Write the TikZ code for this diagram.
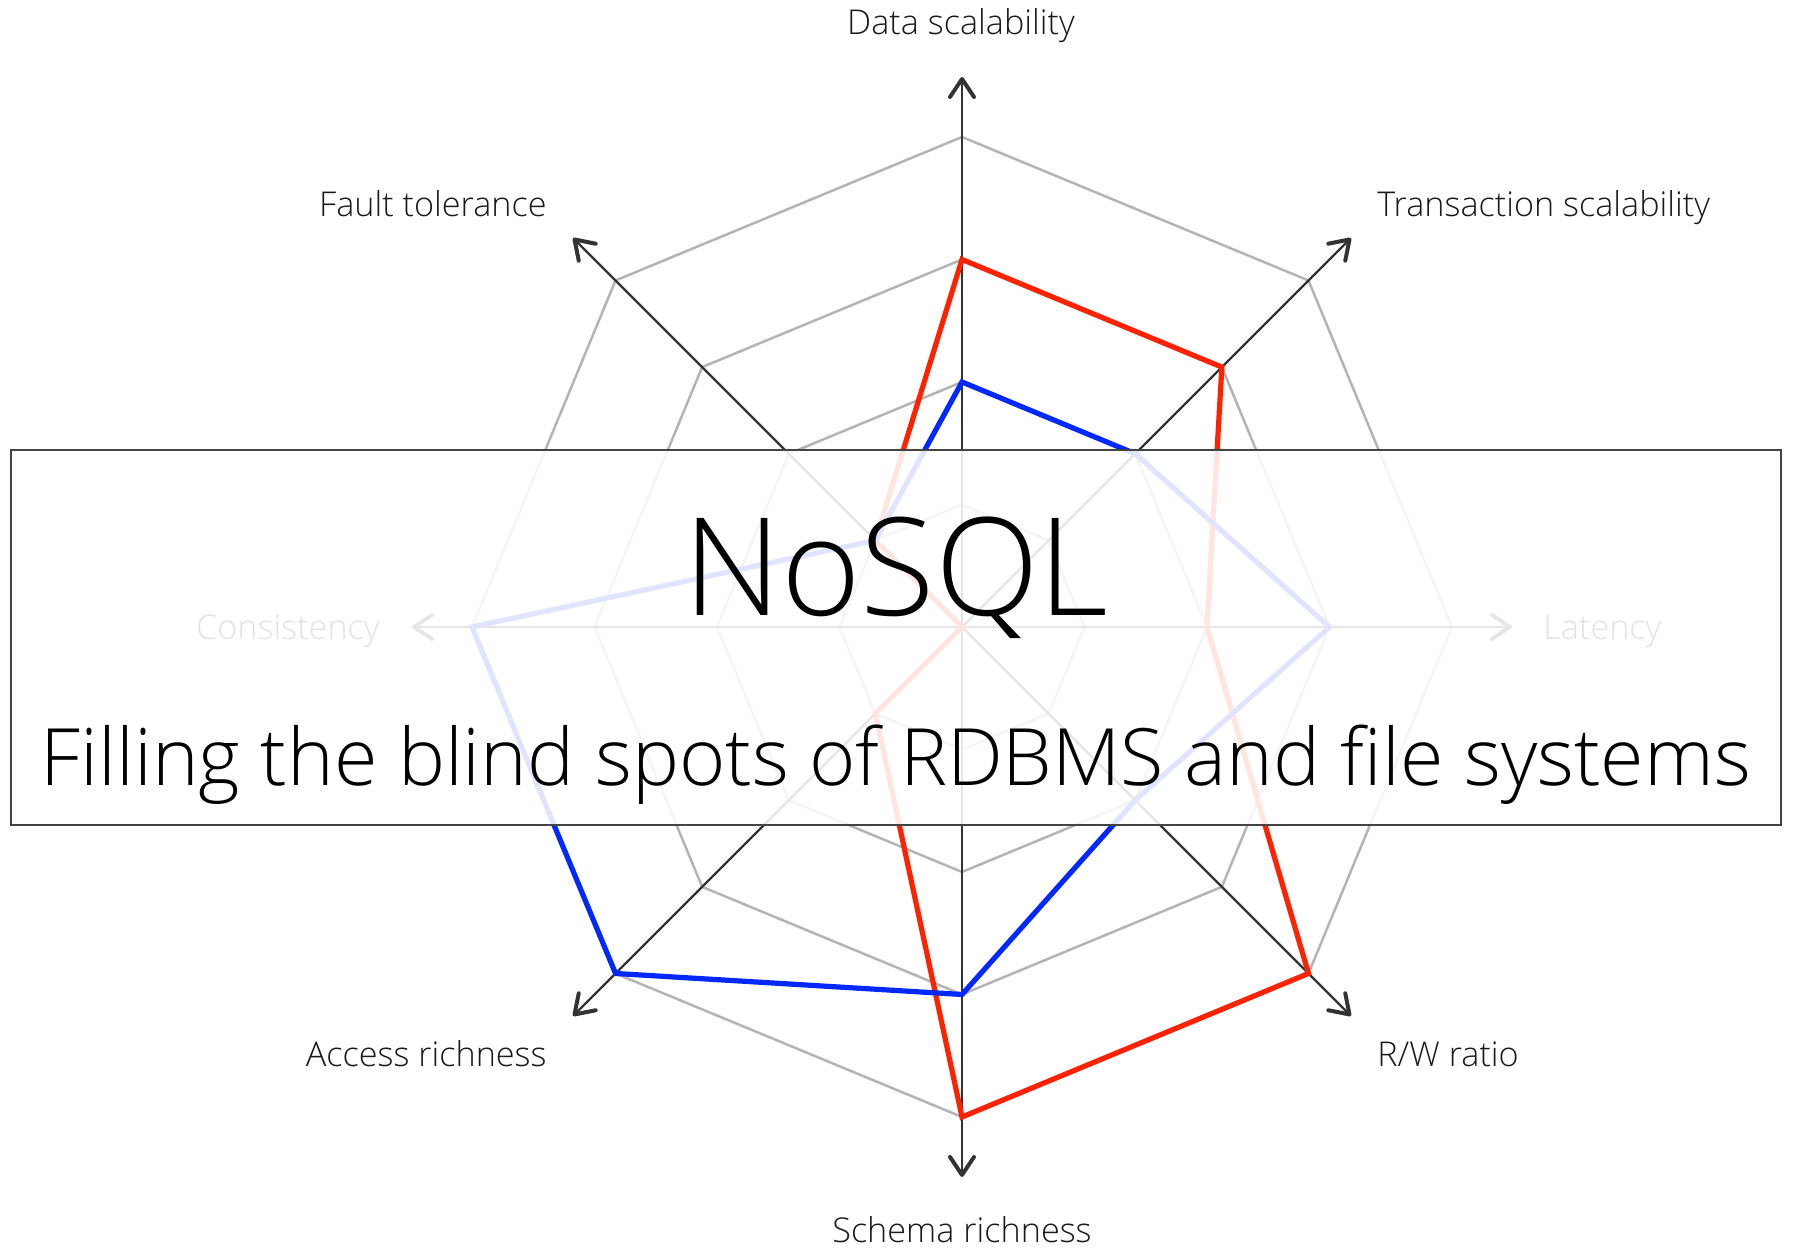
\documentclass[tikz,border=0pt]{standalone}
\usepackage{fontspec}
\setmainfont{Open Sans Light}
\usetikzlibrary{arrows.meta}
\definecolor{axisc}{HTML}{333333}
\definecolor{gridc}{HTML}{B4B4B4}
\definecolor{redc}{HTML}{FF2200}
\definecolor{bluec}{HTML}{0028FF}
\definecolor{boxc}{HTML}{444444}
\definecolor{txtc}{HTML}{1A1A1A}
\begin{document}
\begin{tikzpicture}[x=0.5pt,y=0.5pt,
  gridline/.style={draw=gridc,line width=1.25pt,line join=miter},
  axisline/.style={draw=axisc,line width=1.2pt,-{Straight Barb[length=9pt,width=12pt,line width=2pt,round]}},
  series/.style={line width=2.6pt,line join=miter},
  axlabel/.style={text=txtc,font=\fontsize{17.1}{21}\selectfont,inner sep=0pt},
  titlebox/.style={draw=boxc,fill=white,fill opacity=0.88,line width=1.4pt}]
\useasboundingbox (0,0) rectangle (1796,1252);
\coordinate (c) at (962,625);
\begin{scope}[shift={(c)}]
  % grid rings
  \foreach \k in {1,2,3,4}{
    \draw[gridline] (90:\k*122.5) -- (45:\k*122.5) -- (0:\k*122.5) -- (-45:\k*122.5) -- (-90:\k*122.5) -- (-135:\k*122.5) -- (180:\k*122.5) -- (135:\k*122.5) -- cycle;
  }
  % axis end points
  \coordinate (aN) at (90:550);
  \coordinate (aNE) at (45:550);
  \coordinate (aE) at (0:550);
  \coordinate (aSE) at (-45:550);
  \coordinate (aS) at (-90:550);
  \coordinate (aSW) at (-135:550);
  \coordinate (aW) at (180:550);
  \coordinate (aNW) at (135:550);
\end{scope}
\foreach \a in {aN,aNE,aE,aSE,aS,aSW,aW,aNW}{
  \draw[axisline] (c) -- (\a);
}
% axis labels
\node[axlabel,anchor=base] (lN) at (961,1217) {Data scalability};
\node[axlabel,anchor=base east] (lNW) at (547,1035) {Fault tolerance};
\node[axlabel,anchor=base west] (lNE) at (1377,1035) {Transaction scalability};
\node[axlabel,anchor=base east] (lW) at (380,612) {Consistency};
\node[axlabel,anchor=base west] (lE) at (1543,612) {Latency};
\node[axlabel,anchor=base east] (lSW) at (547,185) {Access richness};
\node[axlabel,anchor=base west] (lSE) at (1377,185) {R/W ratio};
\node[axlabel,anchor=base] (lS) at (962,9) {Schema richness};
% series
\begin{scope}[shift={(c)}]
  \draw[series,draw=redc] (90:367.5) -- (45:367.5) -- (0:245) -- (-45:490) -- (-90:490) -- (-135:122.5) -- (0,0) -- (135:122.5) -- cycle;
  \draw[series,draw=bluec] (90:245) -- (45:245) -- (0:367.5) -- (-45:245) -- (-90:367.5) -- (-135:490) -- (180:490) -- (135:122.5) -- cycle;
\end{scope}
% title box
\path[titlebox] (11,427) rectangle (1781,802);
\node[anchor=base,inner sep=0pt,font=\fontsize{68}{74}\selectfont] (title) at (896,636) {NoSQL};
\node[anchor=base,inner sep=0pt,font=\fontsize{45}{50}\selectfont] (subtitle) at (896,466) {\resizebox{855pt}{!}{Filling the blind spots of RDBMS and file systems}};
\end{tikzpicture}
\end{document}
